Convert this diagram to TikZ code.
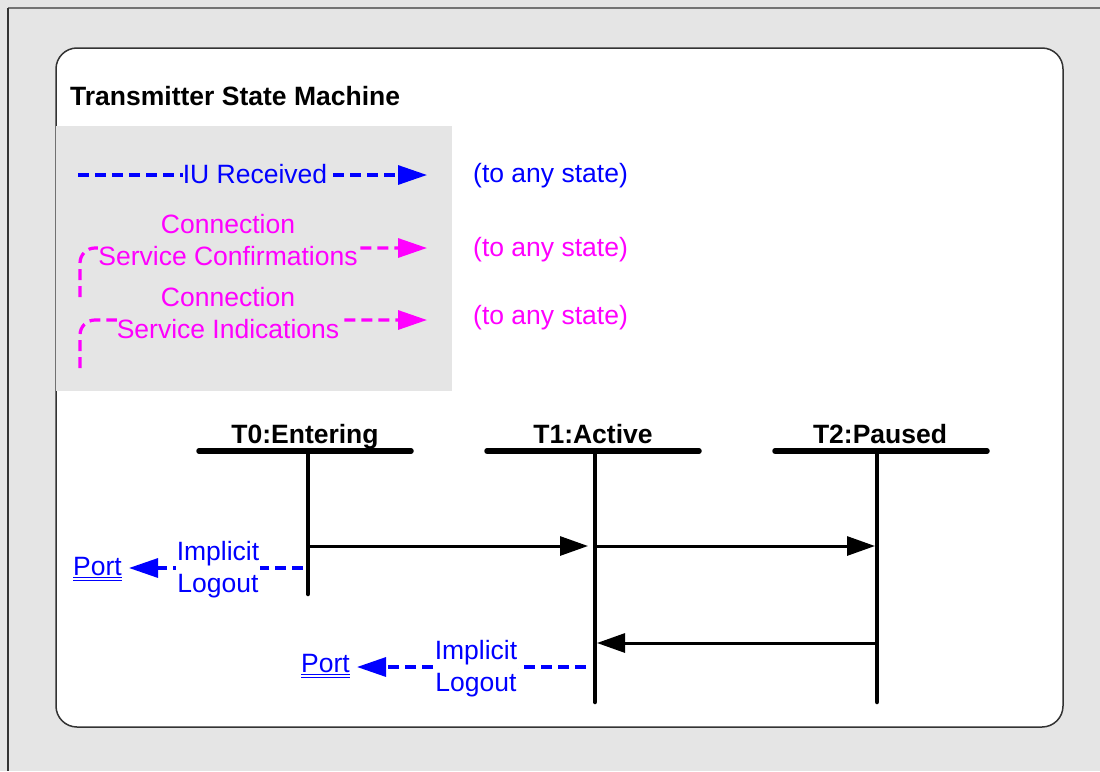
\documentclass[tikz,border=0pt]{standalone}
\usepackage{fontspec}
\setmainfont{Liberation Sans}
\usetikzlibrary{arrows.meta}
\definecolor{bggray}{HTML}{E5E5E5}
\definecolor{mag}{HTML}{FF00FF}
\definecolor{iublue}{HTML}{0000FF}
\begin{document}
\begin{tikzpicture}[x=1pt,y=-1pt,
  txt/.style={font=\fontsize{26.5}{32.5}\selectfont, inner sep=0pt, align=center},
  bold/.style={txt, font=\fontsize{26.5}{32.5}\selectfont\bfseries},
  dashline/.style={line width=3.2pt, dash pattern=on 11pt off 6pt},
  legtip/.style={-{Triangle[length=29pt,width=19pt]}},
  msg/.style={line width=3pt, -{Triangle[length=28pt,width=19pt]}},
  bar/.style={line width=5.5pt, line cap=round},
  life/.style={line width=4.5pt, line cap=round},
  ul/.style={iublue, line width=0.9pt}]
\useasboundingbox (0,0) rectangle (1100,771);
% background and frames
\fill[bggray] (0,0) rectangle (1100,771);
\draw[line width=2pt, draw=black!55] (8,8) -- (1100,8);
\draw[line width=1.5pt, draw=black!80] (8,8) -- (8,771);
\draw[fill=white, draw=black!80, line width=1.5pt, rounded corners=21pt] (56,48) rectangle (1063,727);
% title
\node[bold, anchor=base west] (title) at (70,105) {Transmitter State Machine};
% legend box
\fill[bggray] (56,126) rectangle (452,391);
% legend row 1
\coordinate (l1s) at (78,175);
\coordinate (l1e) at (427,175);
\draw[iublue, dashline, legtip] (l1s) -- (l1e);
\node[txt, text=iublue, fill=bggray, anchor=base] (iu) at (255,183) {IU Received};
\node[txt, text=iublue, anchor=base west] (any1) at (473,182) {(to any state)};
% legend row 2
\coordinate (l2s) at (80,297);
\coordinate (l2e) at (427,248);
\draw[mag, dashline, legtip, rounded corners=15pt] (l2s) -- (80,248) -- (l2e);
\node[txt, text=mag, fill=bggray, anchor=north] (conf) at (228,214) {Connection\\Service Confirmations};
\node[txt, text=mag, anchor=base west] (any2) at (473,256) {(to any state)};
% legend row 3
\coordinate (l3s) at (80,368);
\coordinate (l3e) at (427,320);
\draw[mag, dashline, legtip, rounded corners=15pt] (l3s) -- (80,320) -- (l3e);
\node[txt, text=mag, fill=bggray, anchor=north] (ind) at (228,287) {Connection\\Service Indications};
\node[txt, text=mag, anchor=base west] (any3) at (473,324) {(to any state)};
% lifelines
\node[bold, anchor=base] (t0) at (305,443) {T0:Entering};
\node[bold, anchor=base] (t1) at (593,443) {T1:Active};
\node[bold, anchor=base] (t2) at (880,443) {T2:Paused};
\coordinate (t0l) at (199,451); \coordinate (t0r) at (411,451);
\coordinate (t1l) at (487,451); \coordinate (t1r) at (699,451);
\coordinate (t2l) at (775,451); \coordinate (t2r) at (987,451);
\draw[bar] (t0l) -- (t0r);
\draw[bar] (t1l) -- (t1r);
\draw[bar] (t2l) -- (t2r);
\coordinate (t0top) at (308,451); \coordinate (t0bot) at (308,594);
\coordinate (t1top) at (595,451); \coordinate (t1bot) at (595,702);
\coordinate (t2top) at (877,451); \coordinate (t2bot) at (877,702);
\draw[life] (t0top) -- (t0bot);
\draw[life] (t1top) -- (t1bot);
\draw[life] (t2top) -- (t2bot);
% messages
\coordinate (m1s) at (308,546); \coordinate (m1e) at (588,546);
\coordinate (m2s) at (595,546); \coordinate (m2e) at (875,546);
\coordinate (m3s) at (877,643); \coordinate (m3e) at (597,643);
\draw[msg] (m1s) -- (m1e);
\draw[msg] (m2s) -- (m2e);
\draw[msg] (m3s) -- (m3e);
% implicit logout 1
\node[txt, text=iublue, anchor=base west] (port1) at (73,575) {Port};
\draw[ul] ([yshift=-2.5pt]port1.base west) -- ([yshift=-2.5pt]port1.base east);
\draw[ul] ([yshift=-5.5pt]port1.base west) -- ([yshift=-5.5pt]port1.base east);
\coordinate (lo1s) at (303,568);
\draw[iublue, dashline, legtip] (lo1s) -- ([xshift=7pt]port1.east |- lo1s);
\node[txt, text=iublue, fill=white, inner xsep=1pt, anchor=north] (il1) at (218,541) {Implicit\\Logout};
% implicit logout 2
\node[txt, text=iublue, anchor=base west] (port2) at (301,672) {Port};
\draw[ul] ([yshift=-2.5pt]port2.base west) -- ([yshift=-2.5pt]port2.base east);
\draw[ul] ([yshift=-5.5pt]port2.base west) -- ([yshift=-5.5pt]port2.base east);
\coordinate (lo2s) at (586,667);
\draw[iublue, dashline, legtip] (lo2s) -- ([xshift=7pt]port2.east |- lo2s);
\node[txt, text=iublue, fill=white, inner xsep=1pt, anchor=north] (il2) at (476,640) {Implicit\\Logout};
\end{tikzpicture}
\end{document}
